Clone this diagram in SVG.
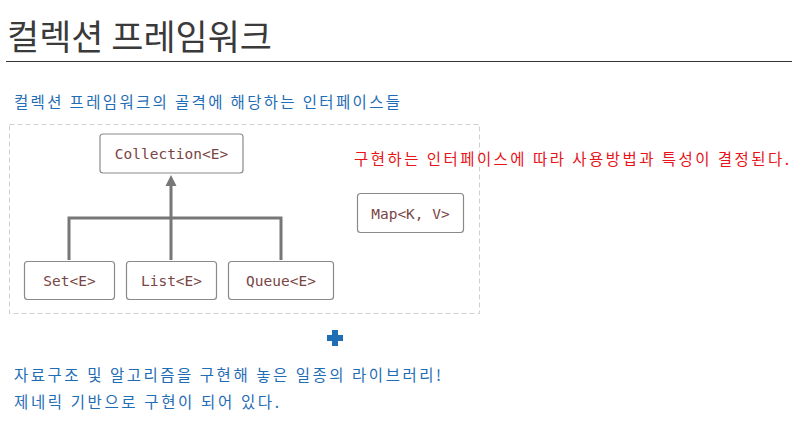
<svg xmlns="http://www.w3.org/2000/svg" width="794" height="424" viewBox="0 0 794 424">
<style>
.kr{font-family:"Noto Sans CJK KR","Noto Sans",sans-serif}
.blue{fill:#1f6db5;font-size:15.5px}
.node rect{fill:#fff;stroke:#8a8a8a;stroke-width:1.2}
.node text{font-family:"DejaVu Sans Mono","Liberation Mono",monospace;font-size:14.5px;fill:#7a4545;text-anchor:middle}
.conn{stroke:#777;stroke-width:3;fill:none}
</style>
<rect width="794" height="424" fill="#fff"/>
<text class="kr" x="7" y="50" font-size="35" fill="#3a3a3a" textLength="265" lengthAdjust="spacingAndGlyphs">컬렉션 프레임워크</text>
<line x1="6" y1="61.5" x2="792" y2="61.5" stroke="#333" stroke-width="1.2"/>
<text class="kr blue" x="14" y="108" textLength="386" lengthAdjust="spacing">컬렉션 프레임워크의 골격에 해당하는 인터페이스들</text>
<rect x="9.5" y="124.5" width="470" height="189" fill="none" stroke="#d0d0d0" stroke-dasharray="5,3"/>
<g id="connectors">
<path class="conn" d="M69 260V218H281V260M171 260V184"/>
<polygon points="171,175 165.5,186 176.5,186" fill="#777"/>
</g>
<g id="collection" class="node"><rect x="100" y="134" width="143" height="39" rx="3"/><text x="171.5" y="158.5">Collection&lt;E&gt;</text></g>
<g id="set" class="node"><rect x="24.5" y="261.5" width="90" height="38" rx="3"/><text x="69.5" y="285.5">Set&lt;E&gt;</text></g>
<g id="list" class="node"><rect x="126.5" y="261.5" width="90" height="38" rx="3"/><text x="171.5" y="285.5">List&lt;E&gt;</text></g>
<g id="queue" class="node"><rect x="228.5" y="261.5" width="105" height="38" rx="3"/><text x="281" y="285.5">Queue&lt;E&gt;</text></g>
<g id="map" class="node"><rect x="357.5" y="193.5" width="106" height="39" rx="3"/><text x="410.5" y="218.5">Map&lt;K, V&gt;</text></g>
<text class="kr" x="354" y="165" font-size="15.5" fill="#e8141a" textLength="435" lengthAdjust="spacing">구현하는 인터페이스에 따라 사용방법과 특성이 결정된다.</text>
<path d="M332 330h6v5h5v6h-5v5h-6v-5h-5v-6h5z" fill="#1f6db5"/>
<text class="kr blue" x="14" y="381" textLength="427" lengthAdjust="spacing">자료구조 및 알고리즘을 구현해 놓은 일종의 라이브러리!</text>
<text class="kr blue" x="14" y="408" textLength="265" lengthAdjust="spacing">제네릭 기반으로 구현이 되어 있다.</text>
</svg>
